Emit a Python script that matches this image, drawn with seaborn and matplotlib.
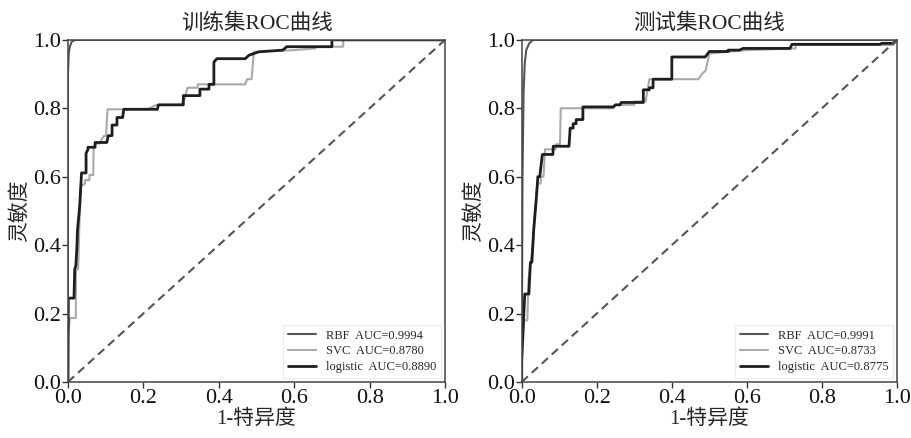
import numpy as np
import matplotlib
matplotlib.use("Agg")
import matplotlib.pyplot as plt
import seaborn as sns
import pandas as pd

sns.set_style("ticks")
plt.rcParams['font.family'] = ['Liberation Serif', 'Noto Sans CJK SC']
plt.rcParams['axes.unicode_minus'] = False

# 训练集 ROC 曲线顶点 (fpr, tpr)
train_rbf_fpr = [0, 0, 0.002, 0.005, 0.01, 0.02, 1.0]
train_rbf_tpr = [0, 0.9, 0.96, 0.98, 0.995, 1.0, 1.0]

train_svc_fpr = [0, 0, 0.005, 0.021, 0.021, 0.027, 0.030, 0.034, 0.045, 0.045, 0.057, 0.057,
                 0.067, 0.068, 0.072, 0.085, 0.09, 0.095, 0.101, 0.105, 0.21, 0.235, 0.30,
                 0.31, 0.317, 0.344, 0.344, 0.47, 0.475, 0.487, 0.493, 0.60, 0.656, 0.66,
                 0.73, 0.73, 1.0]
train_svc_tpr = [0, 0.134, 0.187, 0.187, 0.328, 0.33, 0.45, 0.571, 0.58, 0.59, 0.59, 0.605,
                 0.605, 0.683, 0.697, 0.697, 0.71, 0.719, 0.719, 0.797, 0.797, 0.81, 0.81,
                 0.83, 0.86, 0.86, 0.87, 0.87, 0.885, 0.885, 0.965, 0.97, 0.975, 0.98,
                 0.98, 1.0, 1.0]

train_log_fpr = [0, 0.001, 0.016, 0.018, 0.021, 0.024, 0.025, 0.031, 0.036, 0.048, 0.048,
                 0.053, 0.053, 0.072, 0.072, 0.103, 0.107, 0.117, 0.117, 0.13, 0.13, 0.145,
                 0.148, 0.237, 0.24, 0.306, 0.306, 0.35, 0.35, 0.374, 0.374, 0.387, 0.387,
                 0.395, 0.47, 0.48, 0.506, 0.57, 0.58, 0.70, 0.70, 1.0]
train_log_tpr = [0, 0.245, 0.245, 0.33, 0.34, 0.40, 0.44, 0.513, 0.611, 0.611, 0.668,
                 0.68, 0.686, 0.686, 0.70, 0.70, 0.72, 0.72, 0.751, 0.751, 0.773, 0.773,
                 0.797, 0.797, 0.81, 0.81, 0.837, 0.837, 0.856, 0.856, 0.87, 0.87, 0.935,
                 0.945, 0.945, 0.955, 0.965, 0.97, 0.98, 0.98, 1.0, 1.0]

# 测试集 ROC 曲线顶点
test_rbf_fpr = [0, 0.002, 0.005, 0.008, 0.012, 0.02, 0.03, 1.0]
test_rbf_tpr = [0, 0.6, 0.85, 0.93, 0.97, 0.99, 1.0, 1.0]

test_svc_fpr = [0, 0, 0.006, 0.015, 0.018, 0.022, 0.03, 0.035, 0.042, 0.05, 0.052, 0.058,
                0.062, 0.09, 0.092, 0.102, 0.104, 0.244, 0.25, 0.30, 0.30, 0.33, 0.335,
                0.34, 0.471, 0.48, 0.49, 0.50, 0.55, 0.60, 0.73, 0.73, 0.99, 1.0]
test_svc_tpr = [0, 0.10, 0.18, 0.18, 0.30, 0.33, 0.40, 0.50, 0.58, 0.58, 0.60, 0.60,
                0.68, 0.68, 0.695, 0.695, 0.80, 0.80, 0.81, 0.81, 0.82, 0.82, 0.85,
                0.885, 0.885, 0.90, 0.91, 0.96, 0.965, 0.97, 0.975, 0.985, 0.985, 1.0]

test_log_fpr = [0, 0.0, 0.005, 0.008, 0.019, 0.023, 0.027, 0.032, 0.038, 0.043, 0.048,
                0.055, 0.083, 0.084, 0.126, 0.129, 0.137, 0.137, 0.145, 0.145, 0.163, 0.163,
                0.244, 0.25, 0.262, 0.265, 0.324, 0.324, 0.34, 0.34, 0.35, 0.35, 0.40, 0.40,
                0.489, 0.50, 0.55, 0.55, 0.58, 0.59, 0.715, 0.72, 0.955, 0.96, 0.99, 1.0]
test_log_tpr = [0, 0.06, 0.184, 0.257, 0.257, 0.349, 0.35, 0.446, 0.524, 0.60, 0.60,
                0.665, 0.665, 0.689, 0.689, 0.742, 0.742, 0.755, 0.755, 0.767, 0.767, 0.804,
                0.804, 0.81, 0.81, 0.817, 0.817, 0.854, 0.854, 0.86, 0.86, 0.885, 0.885, 0.95,
                0.95, 0.966, 0.966, 0.97, 0.97, 0.975, 0.975, 0.987, 0.987, 0.99, 0.99, 1.0]

titles = ['训练集ROC曲线', '测试集ROC曲线']
auc_train = ['0.9994', '0.8780', '0.8890']
auc_test = ['0.9991', '0.8733', '0.8775']
models = ['RBF', 'SVC', 'logistic']
colors = ['#555555', '#aaaaaa', '#1e1e1e']
widths = [1.5, 1.5, 2.0]

fig = plt.figure(figsize=(9.11, 4.38), dpi=100)
ax1 = fig.add_axes([0.0746, 0.128, 0.4139, 0.781])
ax2 = fig.add_axes([0.5727, 0.128, 0.4119, 0.781])

sets = [
    (ax1, [(train_rbf_fpr, train_rbf_tpr), (train_svc_fpr, train_svc_tpr), (train_log_fpr, train_log_tpr)], auc_train),
    (ax2, [(test_rbf_fpr, test_rbf_tpr), (test_svc_fpr, test_svc_tpr), (test_log_fpr, test_log_tpr)], auc_test),
]

for i, (ax, curves, aucs) in enumerate(sets):
    for (fx, ty), m, c, w, a in zip(curves, models, colors, widths, aucs):
        sns.lineplot(x=fx, y=ty, sort=False, estimator=None, ax=ax, color=c, lw=w,
                     label=f'{m}  AUC={a}')
    sns.lineplot(x=[0, 1], y=[0, 1], ax=ax, color='#555555', lw=1.5, ls=(0, (4, 2.5)))
    ax.set_xlim(0, 1)
    ax.set_ylim(0, 1)
    ax.set_xticks([0, 0.2, 0.4, 0.6, 0.8, 1.0])
    ax.set_yticks([0, 0.2, 0.4, 0.6, 0.8, 1.0])
    ax.set_xticklabels(['0.0', '0.2', '0.4', '0.6', '0.8', '1.0'])
    ax.set_yticklabels(['0.0', '0.2', '0.4', '0.6', '0.8', '1.0'])
    ax.tick_params(axis='both', direction='out', length=4, width=1, colors='#333333',
                   labelsize=16, pad=1, labelcolor='#111111')
    for s in ax.spines.values():
        s.set_visible(True)
        s.set_color('#444444')
        s.set_linewidth(1.1)
    ax.set_title(titles[i], fontsize=15.5, pad=8)
    ax.set_xlabel('1-特异度', fontsize=15, labelpad=1)
    ax.set_ylabel('灵敏度', fontsize=15, labelpad=2)
    leg = ax.legend(loc='lower right', fontsize=9, frameon=True, fancybox=False,
                    handlelength=2.2, borderaxespad=0.3, labelspacing=0.3)
    leg.get_frame().set_edgecolor('#e6e6e6')
    leg.get_frame().set_linewidth(0.8)

fig.savefig('out.png', dpi=100)
